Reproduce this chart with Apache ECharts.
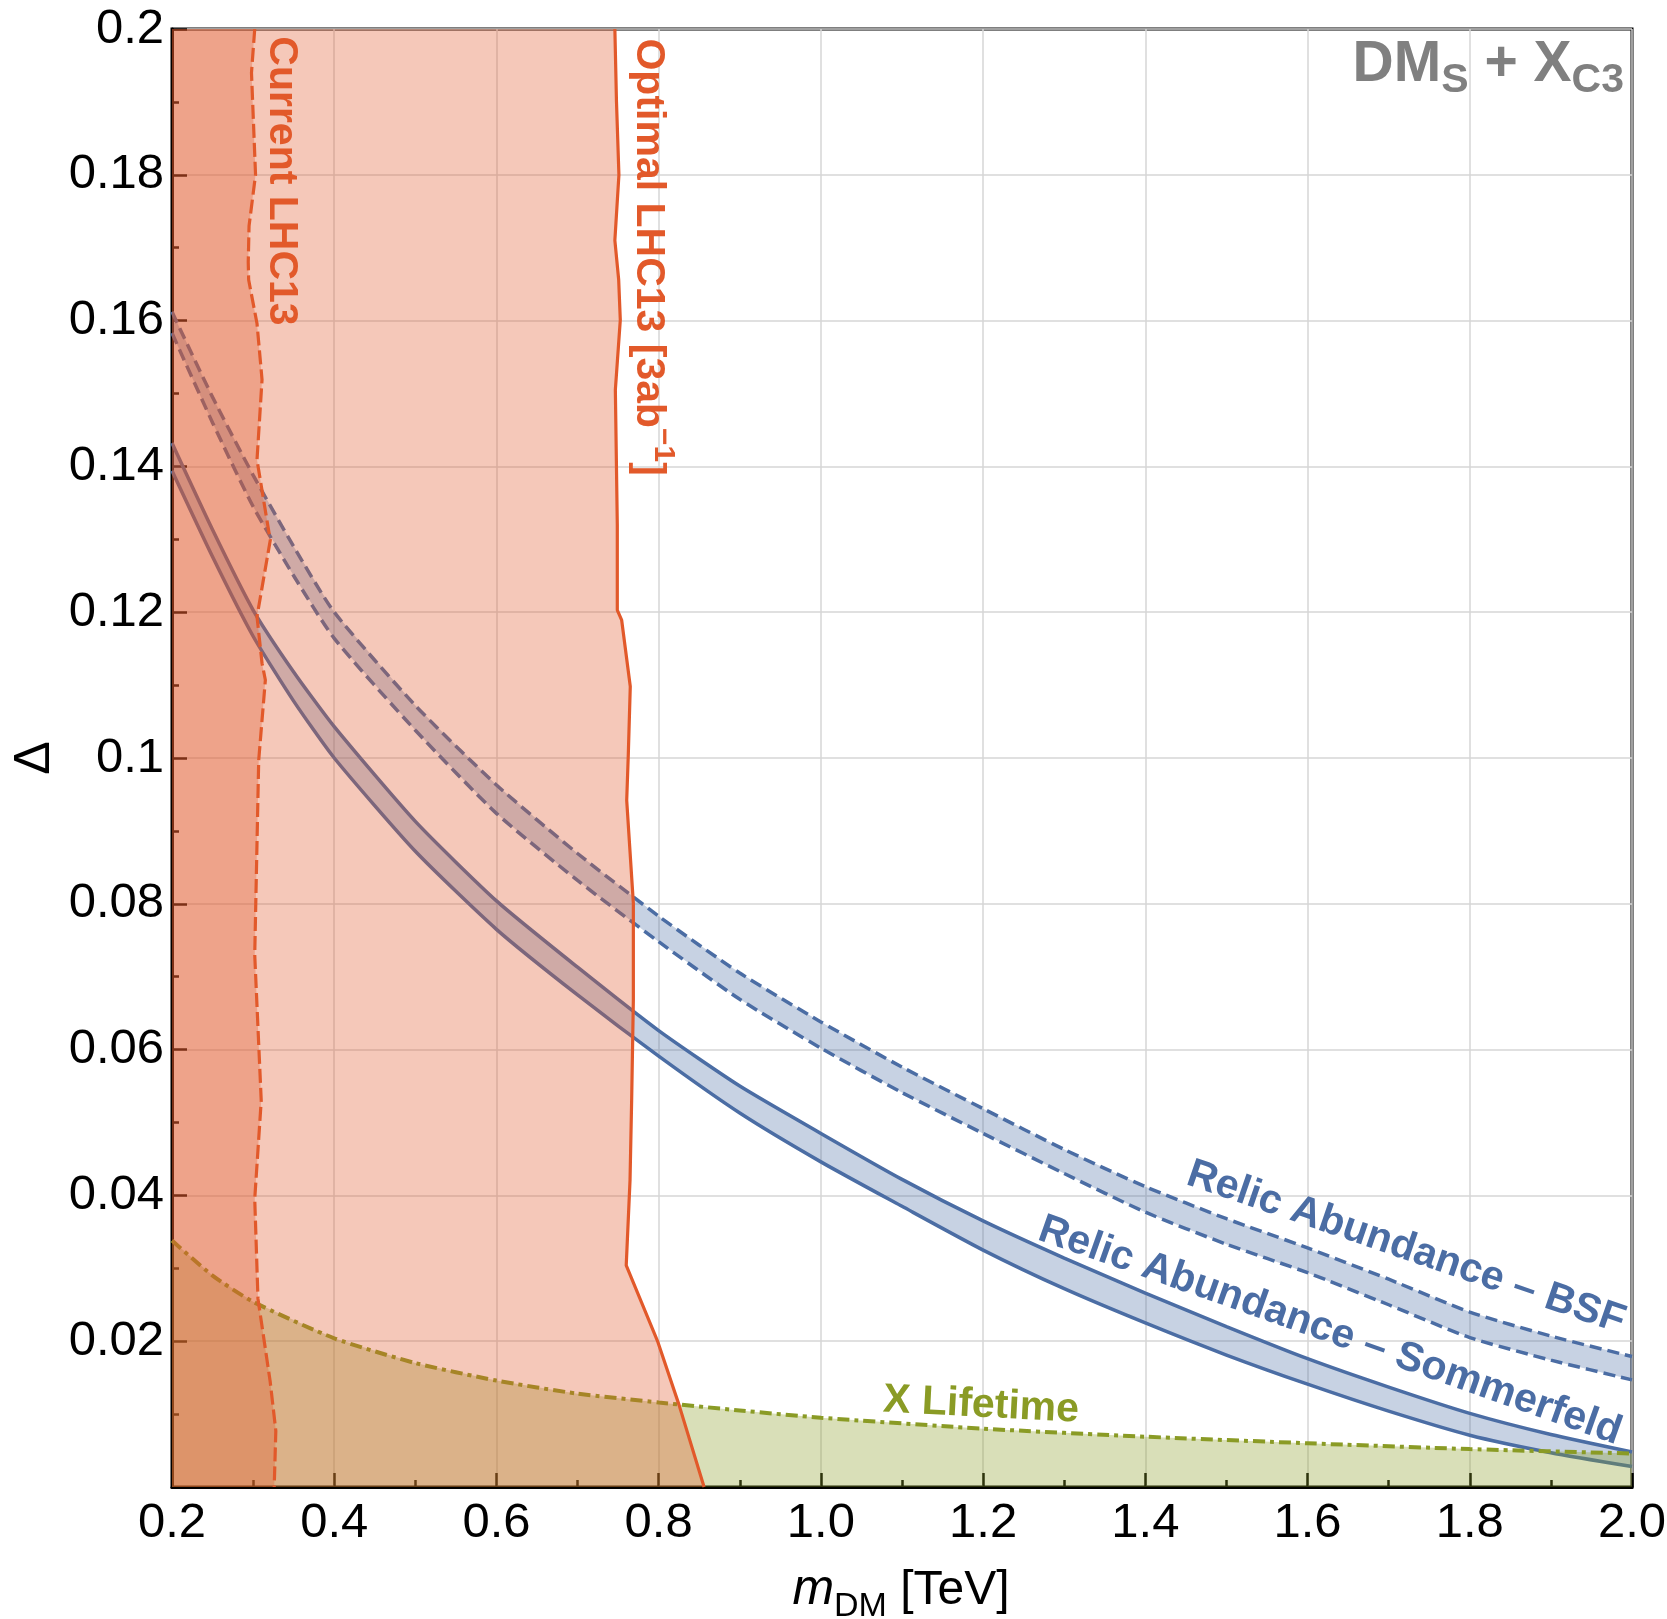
<!DOCTYPE html>
<html>
<head>
<meta charset="utf-8">
<script src="https://cdn.jsdelivr.net/npm/echarts@6/dist/echarts.min.js"></script>
<style>
  html, body { margin: 0; padding: 0; background: #fff; }
  #chart { width: 1667px; height: 1619px; }
</style>
</head>
<body>
<div id="chart"></div>
<script>
const FONT = '"Liberation Sans", Arial, sans-serif'

// axis ranges
const X_MIN = 0.2
const X_MAX = 2.0
const Y_MIN = 0
const Y_MAX = 0.2

// relic abundance bands, read on a common mass grid (TeV)
const massGrid = [0.2, 0.25, 0.3, 0.35, 0.4, 0.5, 0.6, 0.7, 0.8, 0.9, 1.0, 1.1, 1.2, 1.3, 1.4, 1.5, 1.6, 1.7, 1.8, 1.9, 2.0]
const bsfUpper = [0.1612, 0.1495, 0.1388, 0.1290, 0.1200, 0.1072, 0.0963, 0.0869, 0.0783, 0.0705, 0.0638, 0.0576, 0.0519, 0.0463, 0.0412, 0.0368, 0.0328, 0.0285, 0.0240, 0.0207, 0.0179]
const bsfLower = [0.1583, 0.1460, 0.1345, 0.1250, 0.1164, 0.1038, 0.0924, 0.0832, 0.0748, 0.0669, 0.0602, 0.0541, 0.0485, 0.0430, 0.0377, 0.0333, 0.0294, 0.0250, 0.0205, 0.0174, 0.0147]
const sommUpper = [0.1432, 0.1313, 0.1203, 0.1118, 0.1043, 0.0913, 0.0804, 0.0713, 0.0626, 0.0550, 0.0485, 0.0422, 0.0365, 0.0314, 0.0266, 0.0220, 0.0176, 0.0137, 0.0101, 0.0072, 0.0048]
const sommLower = [0.1394, 0.1276, 0.1167, 0.1078, 0.1000, 0.0872, 0.0765, 0.0675, 0.0591, 0.0513, 0.0446, 0.0385, 0.0325, 0.0272, 0.0225, 0.0181, 0.0141, 0.0104, 0.0071, 0.0047, 0.0028]

// X lifetime bound
const lifeMass = [0.2, 0.25, 0.3, 0.4, 0.5, 0.6, 0.7, 0.8, 0.9, 1.0, 1.2, 1.4, 1.6, 1.8, 2.0]
const lifeDelta = [0.0338, 0.0290, 0.0254, 0.0204, 0.0170, 0.0146, 0.0128, 0.0116, 0.0105, 0.0095, 0.0080, 0.0069, 0.0060, 0.0052, 0.0046]

// LHC13 exclusion contours, mass as a function of Delta (top to bottom)
const currentDelta = [0.2, 0.194, 0.180, 0.173, 0.168, 0.1656, 0.1596, 0.1519, 0.1409, 0.1313, 0.1299, 0.1194, 0.1130, 0.1107, 0.0997, 0.073, 0.053, 0.0395, 0.0258, 0.0145, 0.0077, 0]
const currentMass = [0.302, 0.298, 0.303, 0.295, 0.294, 0.2945, 0.3048, 0.311, 0.3048, 0.3190, 0.3212, 0.3048, 0.311, 0.3151, 0.3069, 0.302, 0.310, 0.302, 0.306, 0.321, 0.328, 0.326]
const optimalDelta = [0.2, 0.19, 0.18, 0.171, 0.1656, 0.1601, 0.1505, 0.132, 0.1203, 0.1189, 0.1098, 0.1006, 0.0942, 0.0801, 0.0668, 0.0531, 0.0421, 0.0304, 0.0199, 0.0113, 0]
const optimalMass = [0.746, 0.748, 0.751, 0.746, 0.7507, 0.7527, 0.7466, 0.749, 0.7490, 0.7544, 0.765, 0.7626, 0.7606, 0.7688, 0.7688, 0.7667, 0.7647, 0.760, 0.799, 0.825, 0.856]

const ORANGE = '#e2592a'
const ORANGE_FILL = 'rgba(226, 89, 42, 0.33)'
const BLUE = '#4b6da4'
const BLUE_FILL = 'rgba(75, 109, 164, 0.31)'
const OLIVE = '#8a9b25'
const OLIVE_FILL = 'rgba(140, 158, 40, 0.33)'
const GREY = '#808080'

const zip = (xs, ys) => xs.map((x, i) => [x, ys[i]])

// filled polygon drawn through the cartesian scales
const fillArea = (pts, color, z) => ({
  type: 'custom',
  coordinateSystem: 'cartesian2d',
  silent: true,
  clip: true,
  z: z,
  data: [pts[0]],
  renderItem: (params, api) => ({
    type: 'polygon',
    shape: { points: pts.map(p => api.coord(p)) },
    style: { fill: color }
  })
})

const curve = (pts, color, width, dash, z, smooth) => ({
  type: 'line',
  data: pts,
  symbol: 'none',
  showSymbol: false,
  silent: true,
  clip: true,
  smooth: smooth || false,
  z: z,
  lineStyle: { color: color, width: width, type: dash }
})

const bsfUp = zip(massGrid, bsfUpper)
const bsfLo = zip(massGrid, bsfLower)
const somUp = zip(massGrid, sommUpper)
const somLo = zip(massGrid, sommLower)
const life = zip(lifeMass, lifeDelta)
const current = zip(currentMass, currentDelta)
const optimal = zip(optimalMass, optimalDelta)

const option = {
  animation: false,
  backgroundColor: '#fff',
  grid: {
    left: 172, right: 35, top: 29, bottom: 132,
    show: true, borderColor: '#000', borderWidth: 3,
    outerBoundsMode: 'none'
  },
  xAxis: {
    type: 'value', min: X_MIN, max: X_MAX, interval: 0.2,
    axisLine: { show: true, onZero: false, lineStyle: { color: '#000', width: 3 } },
    axisTick: { show: true, inside: true, length: 14, lineStyle: { color: '#000', width: 2.5 } },
    minorTick: { show: true, splitNumber: 2, length: 7, lineStyle: { color: '#000', width: 2.5 } },
    splitLine: { show: true, lineStyle: { color: '#d6d6d6', width: 1.5 } },
    axisLabel: {
      margin: 12, fontFamily: FONT, fontSize: 49, color: '#000',
      showMinLabel: true, showMaxLabel: true,
      formatter: v => v.toFixed(1)
    }
  },
  yAxis: {
    type: 'value', min: Y_MIN, max: Y_MAX, interval: 0.02,
    axisLine: { show: true, onZero: false, lineStyle: { color: '#000', width: 3 } },
    axisTick: { show: true, inside: true, length: 15, lineStyle: { color: '#000', width: 2.5 } },
    minorTick: { show: true, splitNumber: 2, length: 7, lineStyle: { color: '#000', width: 2.5 } },
    splitLine: { show: true, lineStyle: { color: '#d6d6d6', width: 1.5 } },
    axisLabel: {
      margin: 8, fontFamily: FONT, fontSize: 49, color: '#000',
      showMinLabel: true, showMaxLabel: true,
      formatter: v => (v === 0 ? '' : String(+v.toFixed(3)))
    }
  },
  series: [
    // relic abundance bands (bottom layer)
    fillArea(bsfUp.concat(bsfLo.slice().reverse()), BLUE_FILL, 2),
    fillArea(somUp.concat(somLo.slice().reverse()), BLUE_FILL, 2),
    curve(bsfUp, BLUE, 3.5, [12, 6], 3, 0.2),
    curve(bsfLo, BLUE, 3.5, [12, 6], 3, 0.2),
    curve(somUp, BLUE, 3.5, 'solid', 3, 0.2),
    curve(somLo, BLUE, 3.5, 'solid', 3, 0.2),
    // X lifetime
    fillArea(life.concat([[X_MAX, Y_MIN], [X_MIN, Y_MIN]]), OLIVE_FILL, 4),
    curve(life, OLIVE, 4, [12, 5, 4, 5], 5, 0.2),
    // LHC13 exclusions
    fillArea(optimal.concat([[X_MIN, Y_MIN], [X_MIN, Y_MAX]]), ORANGE_FILL, 6),
    fillArea(current.concat([[X_MIN, Y_MIN], [X_MIN, Y_MAX]]), ORANGE_FILL, 6),
    curve(optimal, ORANGE, 3.2, 'solid', 7),
    curve(current, ORANGE, 3.2, [14, 5], 7)
  ]
}

const chart = echarts.init(document.getElementById('chart'))
chart.setOption(option)

const px = (m, d) => chart.convertToPixel({ gridIndex: 0 }, [m, d])
const deg = a => a * Math.PI / 180

// simple one-run label, centred on a data position
const label = (m, d, text, color, rotation, align) => {
  const p = px(m, d)
  return {
    type: 'text', x: p[0], y: p[1], rotation: rotation || 0, z: 50, silent: true,
    style: {
      text: text, fill: color, fontFamily: FONT, fontWeight: 'bold', fontSize: 41,
      align: align || 'center', verticalAlign: 'middle'
    }
  }
}

// runs of text on one baseline (sub/superscripts via baseline shift), origin at the baseline
const ctx = document.createElement('canvas').getContext('2d')
const fontOf = p => (p.style || 'normal') + ' ' + (p.weight || 'normal') + ' ' + p.size + 'px ' + FONT
const textRun = (x, y, rotation, align, color, parts) => {
  const widths = parts.map(p => { ctx.font = fontOf(p); return ctx.measureText(p.text).width })
  const total = widths.reduce((a, b) => a + b, 0)
  let cx = align === 'right' ? -total : align === 'center' ? -total / 2 : 0
  const children = parts.map((p, i) => {
    const el = {
      type: 'text', x: cx, y: (p.shift || 0) - 0.3465 * p.size, silent: true,
      style: {
        text: p.text, fill: color, fontFamily: FONT, fontSize: p.size,
        fontWeight: p.weight || 'normal', fontStyle: p.style || 'normal',
        align: 'left', verticalAlign: 'middle'
      }
    }
    cx += widths[i]
    return el
  })
  return { type: 'group', x: x, y: y, rotation: rotation, z: 50, silent: true, children: children }
}

const optAnchor = px(0.7702, 0.1987)

chart.setOption({
  graphic: [
    label(0.3344, 0.1990, 'Current LHC13', ORANGE, -Math.PI / 2, 'left'),
    textRun(optAnchor[0], optAnchor[1], -Math.PI / 2, 'left', ORANGE, [
      { text: 'Optimal LHC13 [3ab', size: 41, weight: 'bold' },
      { text: '\u22121', size: 30, weight: 'bold', shift: -18 },
      { text: ']', size: 41, weight: 'bold' }
    ]),
    label(1.7214, 0.0328, 'Relic Abundance \u2013 BSF', BLUE, deg(-19)),
    label(1.6277, 0.0214, 'Relic Abundance \u2013 Sommerfeld', BLUE, deg(-19.5)),
    label(1.1974, 0.0112, 'X Lifetime', OLIVE, deg(-3)),
    textRun(1624, 85, 0, 'right', GREY, [
      { text: 'DM', size: 57, weight: 'bold' },
      { text: 'S', size: 41, weight: 'bold', shift: 10 },
      { text: ' + X', size: 57, weight: 'bold' },
      { text: 'C3', size: 41, weight: 'bold', shift: 10 }
    ]),
    textRun(901, 1607, 0, 'center', '#000', [
      { text: 'm', size: 50, style: 'italic' },
      { text: 'DM', size: 34, shift: 11 },
      { text: ' [TeV]', size: 48 }
    ]),
    {
      type: 'text', x: 35, y: 758, z: 50, rotation: Math.PI / 2, silent: true,
      style: { text: '\u0394', fill: '#000', fontFamily: FONT, fontSize: 50, align: 'center', verticalAlign: 'middle' }
    }
  ]
})
</script>
</body>
</html>
